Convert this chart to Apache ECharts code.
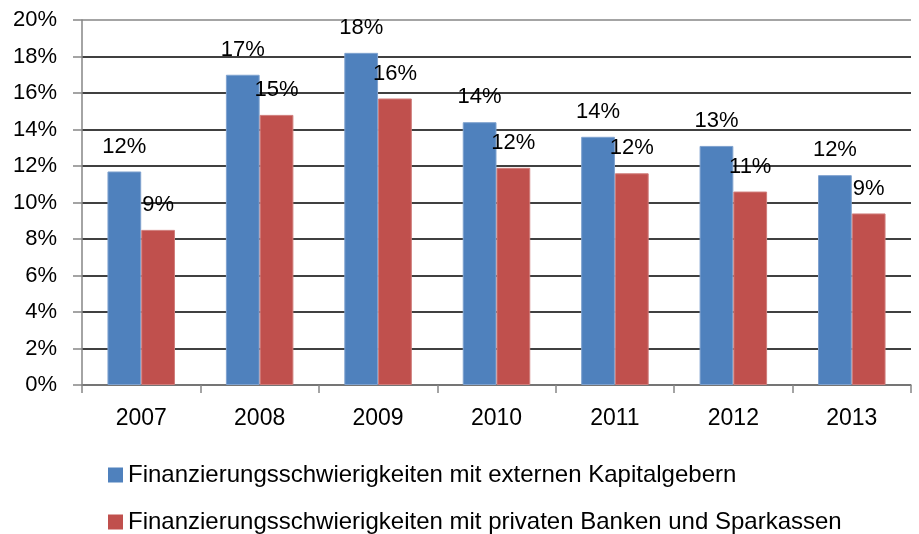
<!DOCTYPE html>
<html>
<head>
<meta charset="utf-8">
<script src="https://cdn.jsdelivr.net/npm/echarts@6/dist/echarts.min.js"></script>
<style>
  html, body { margin: 0; padding: 0; background: #fff; }
  #chart { width: 919px; height: 534px; }
</style>
</head>
<body>
<div id="chart"></div>
<script>
// Jahre und Anteile (in %)
const years = ['2007', '2008', '2009', '2010', '2011', '2012', '2013']
const externeKapitalgeber = [11.7, 17.0, 18.2, 14.4, 13.6, 13.1, 11.5]
const privateBanken = [8.5, 14.8, 15.7, 11.9, 11.6, 10.6, 9.4]
const seriesNames = [
  'Finanzierungsschwierigkeiten mit externen Kapitalgebern',
  'Finanzierungsschwierigkeiten mit privaten Banken und Sparkassen',
]

const font = 'Liberation Sans'
const gridColors = ['#000', '#000', '#000', '#000', '#000', '#000', '#000', '#000', '#000', '#000', '#868686']

const chart = echarts.init(document.getElementById('chart'))

const labelStyle = {
  show: true,
  position: 'top',
  distance: 14,
  fontFamily: font,
  fontSize: 22,
  color: '#000',
  formatter: (p) => Math.round(p.value) + '%',
}

chart.setOption({
  animation: false,
  grid: { left: 82, right: 8, top: 20, bottom: 149 },
  legend: {
    orient: 'vertical',
    left: 108,
    top: 463,
    padding: 0,
    itemWidth: 15,
    itemHeight: 15,
    itemGap: 23,
    icon: 'rect',
    itemStyle: { borderWidth: 0 },
    textStyle: { fontFamily: font, fontSize: 24, color: '#000' },
    data: seriesNames,
  },
  xAxis: {
    type: 'category',
    data: years,
    axisLine: { lineStyle: { color: '#868686', width: 1.5 } },
    axisTick: { show: true, length: 8, lineStyle: { color: '#868686', width: 1.5 } },
    axisLabel: { fontFamily: font, fontSize: 23, color: '#000', margin: 22 },
  },
  yAxis: {
    type: 'value',
    min: 0,
    max: 20,
    interval: 2,
    axisLine: { show: true, lineStyle: { color: '#868686', width: 1.5 } },
    axisTick: { show: true, length: 9, lineStyle: { color: '#868686', width: 1.5 } },
    axisLabel: { fontFamily: font, fontSize: 22, color: '#000', margin: 25, formatter: '{value}%' },
    splitLine: { lineStyle: { color: gridColors, width: 1.5 } },
  },
  series: [
    {
      name: seriesNames[0],
      type: 'bar',
      data: externeKapitalgeber,
      barGap: '0%',
      barCategoryGap: '43%',
      itemStyle: { color: '#4F81BD', borderColor: '#7FA2CF', borderWidth: 1 },
      label: labelStyle,
    },
    {
      name: seriesNames[1],
      type: 'bar',
      data: privateBanken,
      itemStyle: { color: '#C0504D', borderColor: '#D07D7B', borderWidth: 1 },
      label: labelStyle,
    },
  ],
})
</script>
</body>
</html>
